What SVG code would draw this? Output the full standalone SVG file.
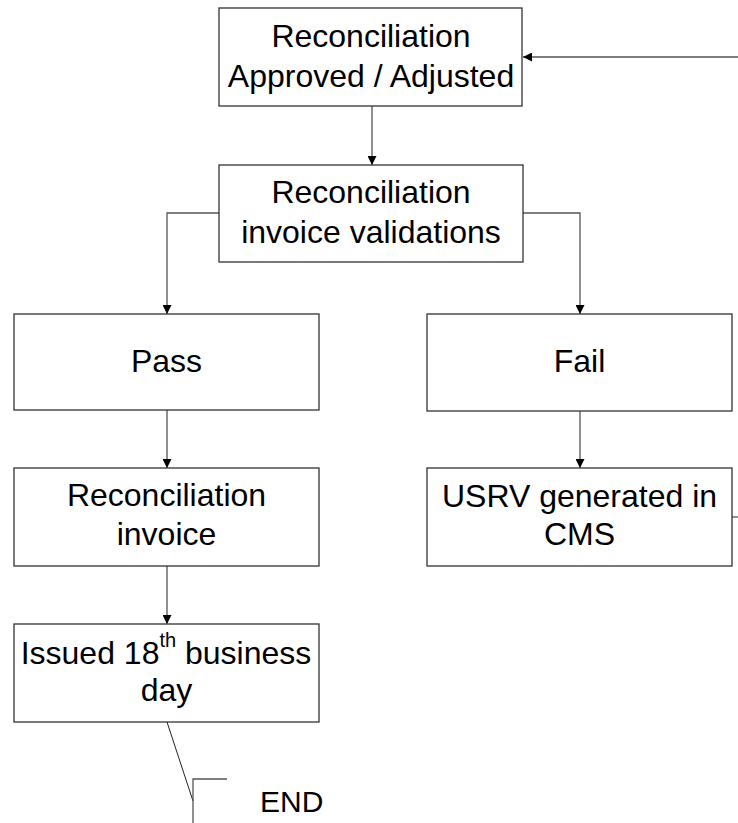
<svg xmlns="http://www.w3.org/2000/svg" width="738" height="823" viewBox="0 0 738 823">
<style>
.box{fill:#fff;stroke:#333;stroke-width:1.3}
.t{font-family:"Liberation Sans",Arial,sans-serif;font-size:32px;fill:#000;text-anchor:middle}
.c{fill:none;stroke:#555;stroke-width:1.3}
.k{fill:none;stroke:#222;stroke-width:1}
</style>
<defs>
<marker id="ah" viewBox="0 0 10 10" refX="10" refY="5" markerWidth="9" markerHeight="9" markerUnits="userSpaceOnUse" orient="auto">
<path d="M0,0 L10,5 L0,10 z" fill="#000"/>
</marker>
</defs>
<rect width="738" height="823" fill="#fff"/>
<g id="connectors">
<path class="c" d="M738,57 H523" marker-end="url(#ah)"/>
<path class="c" d="M372,106 V165" marker-end="url(#ah)"/>
<path class="c" d="M219,213 H167 V314" marker-end="url(#ah)"/>
<path class="c" d="M523,213 H580 V314" marker-end="url(#ah)"/>
<path class="c" d="M167,410 V468" marker-end="url(#ah)"/>
<path class="c" d="M580,411 V468" marker-end="url(#ah)"/>
<path class="c" d="M167,566 V624" marker-end="url(#ah)"/>
<path class="c" d="M732,517 H738"/>
<path class="k" d="M167,722 L193,801"/>
<path class="c" d="M227,779 H193 V823"/>
</g>
<g id="n1">
<rect class="box" x="219" y="8" width="303" height="98"/>
<text class="t" x="371" y="47">Reconciliation</text>
<text class="t" x="371" y="87">Approved / Adjusted</text>
</g>
<g id="n2">
<rect class="box" x="219" y="165" width="304" height="97"/>
<text class="t" x="371" y="203">Reconciliation</text>
<text class="t" x="371" y="243">invoice validations</text>
</g>
<g id="pass">
<rect class="box" x="14" y="314" width="305" height="96"/>
<text class="t" x="166.5" y="372">Pass</text>
</g>
<g id="fail">
<rect class="box" x="427" y="314" width="305" height="97"/>
<text class="t" x="579.5" y="372">Fail</text>
</g>
<g id="invoice">
<rect class="box" x="14" y="468" width="305" height="98"/>
<text class="t" x="166.5" y="506">Reconciliation</text>
<text class="t" x="166.5" y="545">invoice</text>
</g>
<g id="usrv">
<rect class="box" x="427" y="468" width="305" height="98"/>
<text class="t" x="579.5" y="507">USRV generated in</text>
<text class="t" x="579.5" y="545">CMS</text>
</g>
<g id="issued">
<rect class="box" x="14" y="624" width="305" height="98"/>
<text class="t" x="166" y="664">Issued 18<tspan font-size="20" dy="-17">th</tspan><tspan dy="17"> business</tspan></text>
<text class="t" x="166.5" y="701">day</text>
</g>
<g id="end">
<text class="t" x="260" y="812" style="text-anchor:start;font-size:30px">END</text>
</g>
</svg>
